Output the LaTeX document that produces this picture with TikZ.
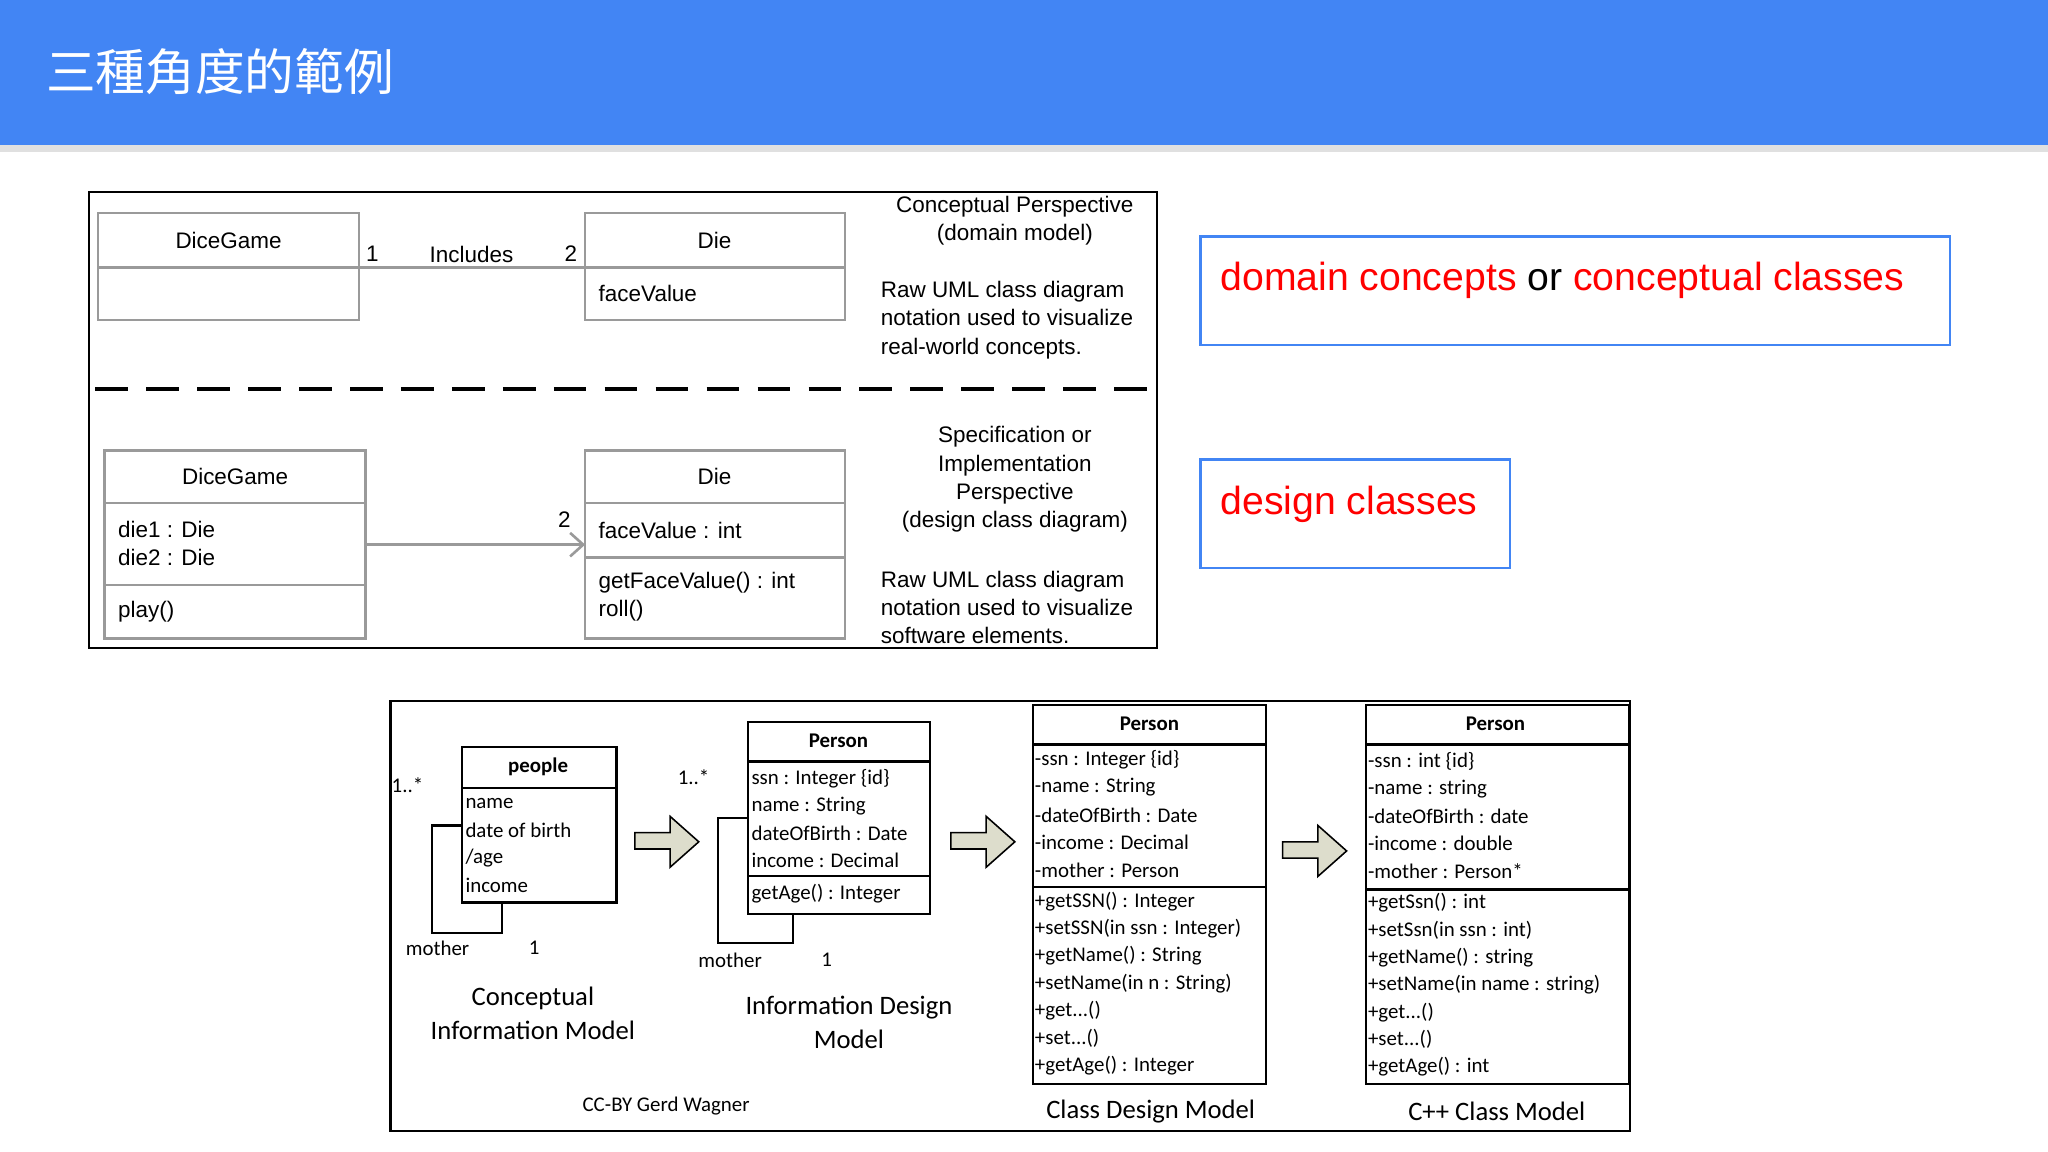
\documentclass[tikz,border=0pt]{standalone}
\usepackage{fontspec}
\setmainfont{Liberation Sans}
\newfontfamily\cjk{Noto Sans CJK TC}
\newfontfamily\calfont{Carlito}
\usetikzlibrary{arrows.meta}
\newcommand\tdots{...}
\definecolor{hdr}{HTML}{4285F4}
\definecolor{boxg}{HTML}{9A9A9A}
\definecolor{arr}{HTML}{DDDDCC}
\tikzset{
 tx/.style={font=\fontsize{8.6}{10.8}\selectfont,inner sep=0pt},
 lt/.style={tx,anchor=west},
 bt/.style={font=\calfont\fontsize{8}{9}\selectfont,inner sep=0pt,anchor=west},
 bc/.style={font=\calfont\fontsize{8}{9}\selectfont,inner sep=0pt},
 captxt/.style={font=\calfont\fontsize{10.2}{13}\selectfont,inner sep=0pt,align=center},
 gbox/.style={draw=boxg,line width=1pt},
 kbox/.style={draw=black,line width=0.8pt},
 redtxt/.style={font=\fontsize{15}{18}\selectfont,inner sep=0pt,anchor=west},
 fat/.style={draw=black,fill=arr,line width=0.6pt}
}
\begin{document}
\begin{tikzpicture}[x=0.5pt,y=-0.5pt]
\useasboundingbox (0,0) rectangle (1568,882);
\fill[white] (0,0) rectangle (1568,882);
\fill[black!12] (0,110) rectangle (1568,116);
\fill[hdr] (0,0) rectangle (1568,111);
\node[font=\cjk\fontsize{19}{22}\selectfont,text=white,anchor=west,inner sep=0pt] (title) at (35,55) {三種角度的範例};
% top frame
\draw[line width=0.8pt] (68,147) rectangle (886,496);
\draw[gbox] (75,163) rectangle (275,245); \draw[gbox] (75,205) -- (275,205);
\node[tx] (dg1) at (175,184) {DiceGame};
\draw[gbox] (448,163) rectangle (647,245); \draw[gbox] (448,205) -- (647,205);
\node[tx] (die1) at (547,184) {Die};
\node[lt] (fv1) at (458,225) {faceValue};
\coordinate (a1) at (275,205); \coordinate (b1) at (448,205);
\draw[boxg,line width=1pt] (a1) -- (b1);
\node[tx] (m1) at (285,194) {1};
\node[tx] (inc) at (361,195) {Includes};
\node[tx] (m2) at (437,194) {2};
\node[tx,align=center] (cp) at (777,169) {Conceptual Perspective\\(domain model)};
\node[lt,align=left] (raw1) at (674,245) {Raw UML class diagram\\notation used to visualize\\real-world concepts.};
\coordinate (d1) at (73,298); \coordinate (d2) at (883,298);
\draw[line width=1.5pt,dash pattern=on 12.5pt off 7pt] (d1) -- (d2);
\draw[gbox] (80,345) rectangle (280,489); \draw[gbox] (80,385) -- (280,385); \draw[gbox] (80,448) -- (280,448);
\node[tx] (dg2) at (180,365) {DiceGame};
\node[lt,align=left] (dies) at (90,416) {die1 : Die\\die2 : Die};
\node[lt] (play) at (90,468) {play()};
\draw[gbox] (448,345) rectangle (647,489); \draw[gbox] (448,385) -- (647,385); \draw[gbox] (448,427) -- (647,427);
\node[tx] (die2) at (547,365) {Die};
\node[lt] (fv2) at (458,406) {faceValue : int};
\node[lt,align=left] (ops) at (458,457) {getFaceValue() : int\\roll()};
\coordinate (a2) at (280,417); \coordinate (b2) at (448,417);
\draw[boxg,line width=1pt,-{Straight Barb[length=5pt,width=9pt]}] (a2) -- (b2);
\node[tx] (m3) at (432,398) {2};
\node[tx,align=center] (sp) at (777,367) {Specification or\\Implementation\\Perspective\\(design class diagram)};
\node[lt,align=left] (raw2) at (674,465) {Raw UML class diagram\\notation used to visualize\\software elements.};
% right boxes
\draw[hdr,line width=1pt] (919,181) rectangle (1493,264);
\node[redtxt] (dc) at (934,215) {\textcolor{red}{domain concepts} or \textcolor{red}{conceptual classes}};
\draw[hdr,line width=1pt] (919,352) rectangle (1156,435);
\node[redtxt,text=red] (dsc) at (934,386) {design classes};
% bottom frame
\draw[line width=0.8pt] (299,537) rectangle (1248,866);
% people
\draw[kbox] (354,572) rectangle (472,691); \draw[kbox] (354,603) -- (472,603);
\node[bc,font=\calfont\bfseries\fontsize{8}{9}\selectfont] (pp) at (412,587) {people};
\node[bt] (p1) at (356,615) {name};
\node[bt] (p2) at (356,636) {date of birth};
\node[bt] (p3) at (356,657) {/age};
\node[bt] (p4) at (356,678) {income};
\draw[line width=0.8pt] (354,632) -- (331,632) -- (331,714) -- (384,714) -- (384,691);
\node[bc] (l1) at (312,601) {1..*};
\node[bc] (l2) at (335,726) {mother};
\node[bc] (l3) at (409,726) {1};
% Person info
\draw[kbox] (573,553) rectangle (712,700); \draw[kbox] (573,583) -- (712,583); \draw[kbox] (573,671) -- (712,671);
\node[bc,font=\calfont\bfseries\fontsize{8}{9}\selectfont] (ip) at (642,567) {Person};
\foreach \t [count=\i] in {ssn : Integer \{id\},name : String,dateOfBirth : Date,income : Decimal}
 \node[bt] (ia\i) at (575,575+21*\i) {\t};
\node[bt] (io) at (575,684) {getAge() : Integer};
\draw[line width=0.8pt] (573,626) -- (550,626) -- (550,722) -- (607,722) -- (607,700);
\node[bc] (l4) at (531,595) {1..*};
\node[bc] (l5) at (559,735) {mother};
\node[bc] (l6) at (633,735) {1};
% Class design
\draw[kbox] (791,540) rectangle (969,830); \draw[kbox] (791,570) -- (969,570); \draw[kbox] (791,679) -- (969,679);
\node[bc,font=\calfont\bfseries\fontsize{8}{9}\selectfont] (cp2) at (880,554) {Person};
\foreach \t [count=\i] in {-ssn : Integer \{id\},-name : String,-dateOfBirth : Date,-income : Decimal,-mother : Person}
 \node[bt] (ca\i) at (792,561+21*\i) {\t};
\foreach \t [count=\i] in {+getSSN() : Integer,+setSSN(in ssn : Integer),+getName() : String,+setName(in n : String),+get\tdots(),+set\tdots(),+getAge() : Integer}
 \node[bt] (co\i) at (792,669+21*\i) {\t};
% C++
\draw[kbox] (1046,540) rectangle (1247,830); \draw[kbox] (1046,570) -- (1247,570); \draw[kbox] (1046,681) -- (1247,681);
\node[bc,font=\calfont\bfseries\fontsize{8}{9}\selectfont] (pp3) at (1145,554) {Person};
\foreach \t [count=\i] in {-ssn : int \{id\},-name : string,-dateOfBirth : date,-income : double,-mother : Person*}
 \node[bt] (pa\i) at (1047,562+21*\i) {\t};
\foreach \t [count=\i] in {+getSsn() : int,+setSsn(in ssn : int),+getName() : string,+setName(in name : string),+get\tdots(),+set\tdots(),+getAge() : int}
 \node[bt] (po\i) at (1047,670+21*\i) {\t};
% fat arrows
\foreach \x/\y [count=\i] in {486/625,728/625,982/632}
 \draw[fat] (\x,\y+12.5) -- (\x+27,\y+12.5) -- (\x+27,\y) -- (\x+49,\y+19.5) -- (\x+27,\y+39) -- (\x+27,\y+25) -- (\x,\y+25) -- cycle;
% captions
\node[captxt] (c1) at (408,776) {Conceptual\\Information Model};
\node[captxt] (c2) at (650,783) {Information Design\\Model};
\node[bc] (cc) at (510,847) {CC-BY Gerd Wagner};
\node[captxt] (c3) at (881,851) {Class Design Model};
\node[captxt] (c4) at (1146,851) {C++ Class Model};
\end{tikzpicture}
\end{document}
